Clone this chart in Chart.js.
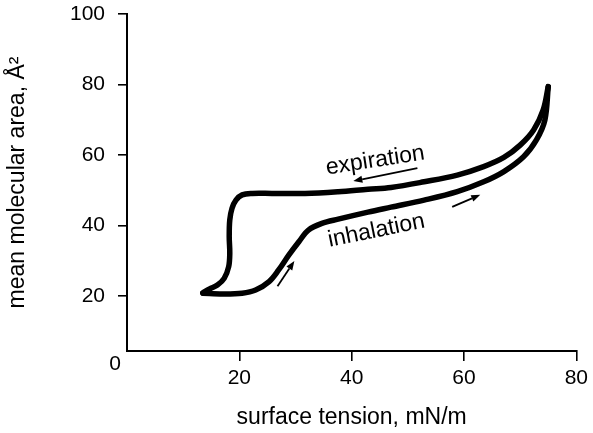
<!DOCTYPE html>
<html>
<head>
<meta charset="utf-8">
<script src="https://cdn.jsdelivr.net/npm/chart.js@4/dist/chart.umd.min.js"></script>
<style>
  html, body { margin: 0; padding: 0; background: #fff; }
  #wrap { width: 593px; height: 433px; }
</style>
</head>
<body>
<div id="wrap"><canvas id="isotherm" width="593" height="433"></canvas></div>
<script>
const FONT = "'Liberation Sans', Arial, Helvetica, sans-serif";
const INK = '#000';

/* ── data read off the loop ─────────────────────────────────────────────── */
// expiration branch: from the high-tension tip back down to the low corner
const expTension = [75.0, 74.1, 72.4, 70.0, 67.1, 63.5, 58.8, 52.9, 47.0, 42.9, 37.6, 31.7, 25.8, 22.3, 20.5, 19.4, 18.7, 18.3, 18.2, 18.3, 18.1, 17.3, 16.1, 14.7, 13.5];
const expArea    = [79.4, 72.8, 67.1, 62.8, 59.3, 56.7, 54.3, 52.4, 50.8, 50.3, 49.6, 49.1, 49.1, 49.1, 48.7, 47.2, 44.9, 41.6, 36.8, 32.1, 28.3, 25.0, 23.1, 22.0, 20.9];

// inhalation branch: low corner up to the high-tension tip
const inhTension = [13.5, 17.0, 20.5, 22.9, 25.3, 27.0, 28.8, 30.6, 32.3, 34.7, 37.6, 42.9, 47.0, 52.9, 58.8, 63.5, 67.1, 70.6, 72.9, 74.4, 75.0];
const inhArea    = [20.8, 20.6, 20.8, 21.7, 24.1, 27.4, 31.6, 35.4, 38.7, 40.6, 41.8, 43.8, 45.2, 47.2, 49.6, 52.4, 55.3, 59.5, 64.3, 69.9, 79.4];

const xTicks = [20, 40, 60, 80];
const yTicks = [20, 40, 60, 80, 100];
const yFloor = 4.4;   // drawn x axis sits a bit above area 0 in the original figure

/* ── annotations (data units) ───────────────────────────────────────────── */
const labelText  = ['expiration', 'inhalation'];
const labelAt    = [[44.2, 58.4], [44.4, 38.5]];
const labelAngle = [-8.7, -11.5];
// [tailX, tailY, headX, headY]
const arrowSegs = [
  [51.7, 56.3, 40.3, 52.6],
  [57.9, 45.3, 62.9, 48.7],
  [26.8, 22.8, 29.8, 29.9]
];

const pts = (xs, ys) => xs.map((x, i) => ({ x, y: ys[i] }));

const annotate = {
  id: 'annotate',
  afterDatasetsDraw(chart) {
    const { ctx, scales: { x, y }, chartArea } = chart;
    ctx.save();
    ctx.fillStyle = INK;
    ctx.strokeStyle = INK;

    // labels along the branches
    ctx.font = `23px ${FONT}`;
    ctx.textAlign = 'center';
    ctx.textBaseline = 'middle';
    labelText.forEach((t, i) => {
      ctx.save();
      ctx.translate(x.getPixelForValue(labelAt[i][0]), y.getPixelForValue(labelAt[i][1]));
      ctx.rotate(labelAngle[i] * Math.PI / 180);
      ctx.fillText(t, 0, 0);
      ctx.restore();
    });

    // direction arrows
    ctx.lineWidth = 1.8;
    arrowSegs.forEach(([tx, ty, hx, hy]) => {
      const x0 = x.getPixelForValue(tx), y0 = y.getPixelForValue(ty);
      const x1 = x.getPixelForValue(hx), y1 = y.getPixelForValue(hy);
      const a = Math.atan2(y1 - y0, x1 - x0);
      const len = 9, half = 3.5;
      const bx = x1 - len * Math.cos(a), by = y1 - len * Math.sin(a);
      ctx.beginPath();
      ctx.moveTo(x0, y0);
      ctx.lineTo(bx, by);
      ctx.stroke();
      ctx.beginPath();
      ctx.moveTo(x1, y1);
      ctx.lineTo(bx + half * Math.sin(a), by - half * Math.cos(a));
      ctx.lineTo(bx - half * Math.sin(a), by + half * Math.cos(a));
      ctx.closePath();
      ctx.fill();
    });

    // the lone "0" at the corner
    ctx.font = `21px ${FONT}`;
    ctx.fillText('0', chartArea.left - 12, chartArea.bottom + 13);
    ctx.restore();
  }
};

const lineStyle = {
  showLine: true,
  borderColor: INK,
  borderWidth: 5.5,
  pointRadius: 0,
  tension: 0.35,
  fill: false,
  borderCapStyle: 'round',
  borderJoinStyle: 'round'
};

new Chart(document.getElementById('isotherm'), {
  type: 'scatter',
  data: {
    datasets: [
      { label: 'expiration', data: pts(expTension, expArea), ...lineStyle },
      { label: 'inhalation', data: pts(inhTension, inhArea), ...lineStyle }
    ]
  },
  options: {
    responsive: false,
    animation: false,
    layout: { padding: { left: 0, right: 13, top: 0, bottom: 0 } },
    plugins: { legend: { display: false }, tooltip: { enabled: false } },
    scales: {
      x: {
        type: 'linear', min: 0, max: 80,
        afterBuildTicks: s => { s.ticks = xTicks.map(v => ({ value: v })); },
        afterFit: s => { s.height = 433 - 351; },
        ticks: { color: INK, font: { family: FONT, size: 21 }, padding: 5, maxRotation: 0 },
        grid: { drawOnChartArea: false, color: INK, lineWidth: 1.6, tickLength: 10 },
        border: { color: INK, width: 2 },
        title: { display: true, text: 'surface tension, mN/m', color: INK, font: { family: FONT, size: 23 }, padding: { top: 0, bottom: 2 } }
      },
      y: {
        type: 'linear', min: yFloor, max: 100,
        afterBuildTicks: s => { s.ticks = yTicks.map(v => ({ value: v })); },
        afterFit: s => { s.width = 127; s.paddingTop = 14; s.paddingBottom = 0; },
        ticks: { color: INK, font: { family: FONT, size: 21 }, padding: 13 },
        grid: { drawOnChartArea: false, color: INK, lineWidth: 1.6, tickLength: 9 },
        border: { color: INK, width: 2 },
        title: { display: true, text: 'mean molecular area, Å²', color: INK, font: { family: FONT, size: 23 }, padding: { top: 4, bottom: 0 } }
      }
    }
  },
  plugins: [annotate]
});
</script>
</body>
</html>
